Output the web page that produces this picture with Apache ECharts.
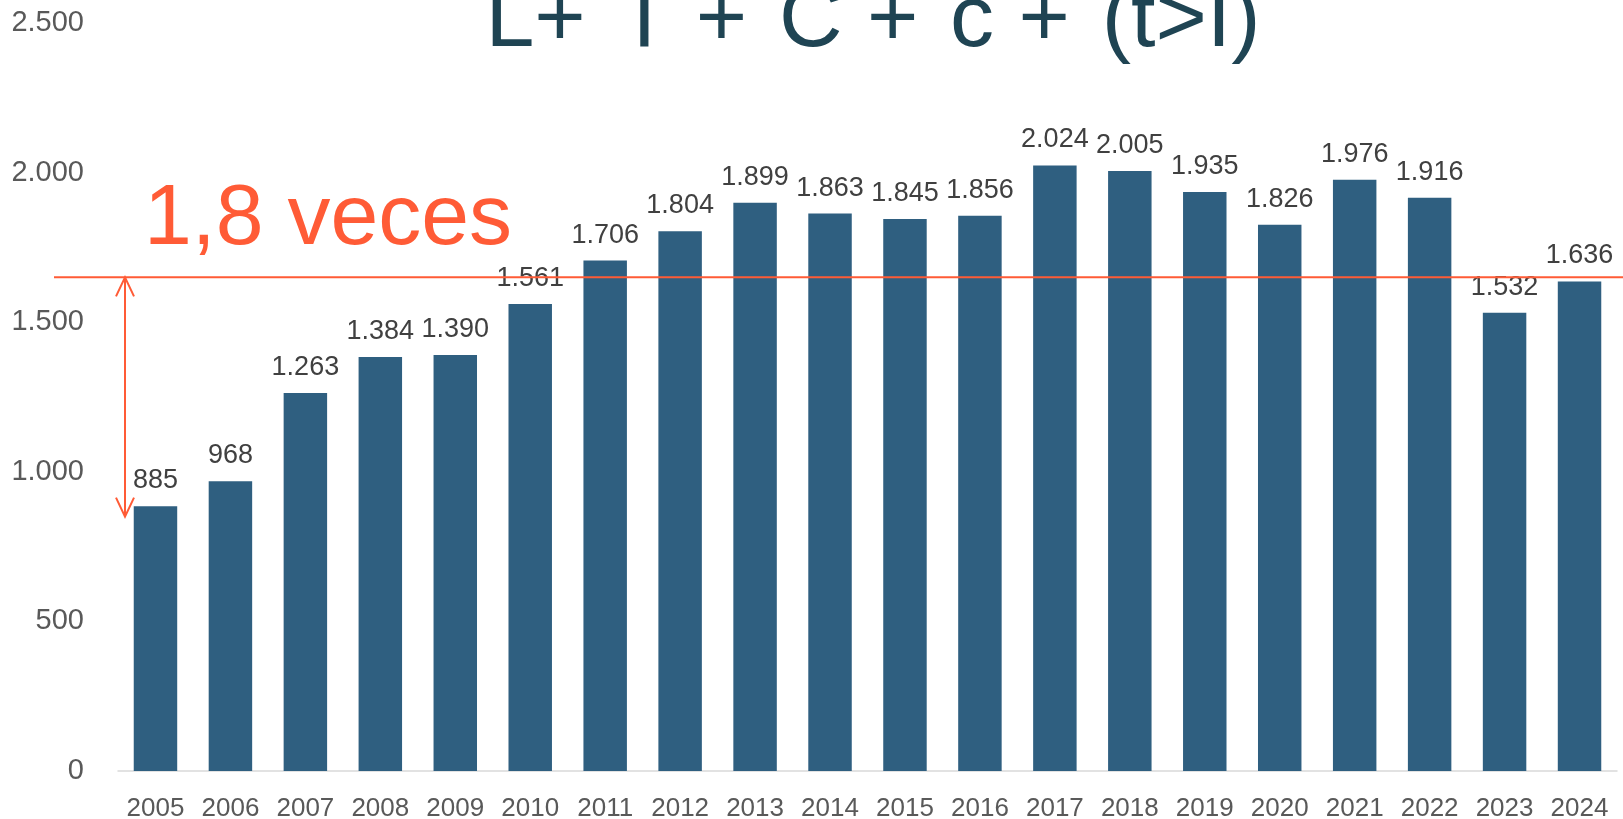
<!DOCTYPE html>
<html>
<head>
<meta charset="utf-8">
<script src="https://cdn.jsdelivr.net/npm/echarts/dist/echarts.min.js"></script>
<style>
  html, body { margin: 0; padding: 0; background: #fff; }
  #chart { width: 1623px; height: 819px; }
</style>
</head>
<body>
<div id="chart"></div>
<script>
// datos
var years = ['2005', '2006', '2007', '2008', '2009', '2010', '2011', '2012', '2013', '2014',
             '2015', '2016', '2017', '2018', '2019', '2020', '2021', '2022', '2023', '2024'];
var values = [885, 968, 1263, 1384, 1390, 1561, 1706, 1804, 1899, 1863,
              1845, 1856, 2024, 2005, 1935, 1826, 1976, 1916, 1532, 1636];
var yMax = 2500;
var yStep = 500;
// nivel de la linea naranja y extremo inferior de la flecha
var refLevel = 1650;
var arrowBottom = 850;

var titleText = 'L+ \u200AT + \u200AC + \u200Ac + \u200A(t>I)';
var noteText = '1,8 veces';
var orange = '#FF5B36';
var font = 'Liberation Sans, Arial, sans-serif';

function fmt(v) {
  if (v >= 1000) {
    var r = String(v % 1000);
    while (r.length < 3) r = '0' + r;
    return Math.floor(v / 1000) + '.' + r;
  }
  return String(v);
}

var chart = echarts.init(document.getElementById('chart'));

var option = {
  animation: false,
  backgroundColor: '#fff',
  grid: {
    left: 118,
    right: 6,
    top: 23,
    bottom: 48,
    outerBoundsMode: 'none'
  },
  xAxis: {
    type: 'category',
    data: years,
    axisLine: { lineStyle: { color: '#D9D9D9', width: 1.5 } },
    axisTick: { show: false },
    axisLabel: { interval: 0, fontSize: 26, color: '#595959', margin: 25, fontFamily: font }
  },
  yAxis: {
    type: 'value',
    min: 0,
    max: yMax,
    interval: yStep,
    splitLine: { show: false },
    axisLine: { show: false },
    axisTick: { show: false },
    axisLabel: {
      fontSize: 29,
      color: '#595959',
      margin: 34,
      fontFamily: font,
      formatter: function (v) { return fmt(v); }
    }
  },
  series: [
    {
      type: 'bar',
      data: values,
      barWidth: '58%',
      itemStyle: { color: '#2F5F80' },
      label: {
        show: true,
        position: 'top',
        distance: 12,
        fontSize: 27,
        color: '#404040',
        fontFamily: font,
        formatter: function (p) { return fmt(p.value); }
      }
    }
  ]
};

chart.setOption(option);

var yLine = chart.convertToPixel({ yAxisIndex: 0 }, refLevel);
var yEnd = chart.convertToPixel({ yAxisIndex: 0 }, arrowBottom);
var ax = 125;

chart.setOption({
  graphic: [
    {
      type: 'line', z: 100,
      shape: { x1: 54, y1: yLine, x2: 1623, y2: yLine },
      style: { stroke: orange, lineWidth: 2 }
    },
    {
      type: 'line', z: 100,
      shape: { x1: ax, y1: yLine, x2: ax, y2: yEnd },
      style: { stroke: orange, lineWidth: 2 }
    },
    {
      type: 'polyline', z: 100,
      shape: { points: [[ax - 9, yLine + 19], [ax, yLine], [ax + 9, yLine + 19]] },
      style: { stroke: orange, lineWidth: 2, fill: null }
    },
    {
      type: 'polyline', z: 100,
      shape: { points: [[ax - 9, yEnd - 19], [ax, yEnd], [ax + 9, yEnd - 19]] },
      style: { stroke: orange, lineWidth: 2, fill: null }
    },
    {
      type: 'text', z: 100, x: 144, y: 220,
      style: {
        text: noteText, fill: orange, fontSize: 86, fontFamily: font,
        align: 'left', textAlign: 'left', verticalAlign: 'middle', textVerticalAlign: 'middle'
      }
    },
    {
      type: 'text', z: 100, x: 873, y: 22,
      style: {
        text: titleText, fill: '#1F4453', fontSize: 88, fontFamily: font,
        align: 'center', textAlign: 'center', verticalAlign: 'middle', textVerticalAlign: 'middle'
      }
    }
  ]
});
</script>
</body>
</html>
